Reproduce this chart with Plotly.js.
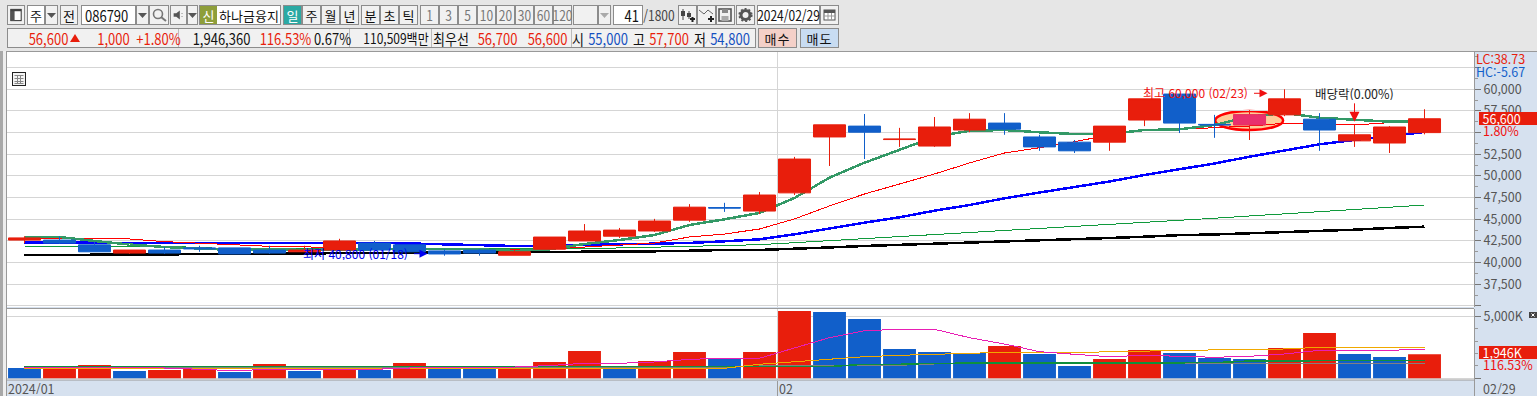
<!DOCTYPE html>
<html lang="ko"><head><meta charset="utf-8">
<script src="https://cdn.plot.ly/plotly-3.0.1.min.js"></script>
<style>
html,body{margin:0;padding:0;width:1537px;height:396px;overflow:hidden;background:#e6e6e6}
#plot{position:absolute;left:0;top:0;width:1537px;height:396px}
.c{position:absolute;box-sizing:border-box;white-space:nowrap;font:13px/1 'Liberation Sans Narrow','Noto Sans CJK KR',sans-serif;color:#111;display:flex;align-items:center;justify-content:center}
.b{border:1px solid #8c8c8c;background:#f1f1f1}
.w{background:#fff}
.g{color:#777}
.t{justify-content:flex-start}
.n span{display:inline-block;transform:scaleY(1.18)}
.scatterlayer .js-line{shape-rendering:crispEdges}
</style></head><body>
<div id="plot"></div><div id="chrome"></div>
<script>
const dates=['01/02','01/03','01/04','01/05','01/08','01/09','01/10','01/11','01/12','01/15','01/16','01/17','01/18','01/19','01/22','01/23','01/24','01/25','01/26','01/29','01/30','01/31','02/01','02/02','02/05','02/06','02/07','02/08','02/13','02/14','02/15','02/16','02/19','02/20','02/21','02/22','02/23','02/26','02/27','02/28','02/29'];
const opens=[42600,42600,42050,41100,41450,41700,41700,41450,41250,41450,42250,42050,41350,41450,40850,41550,42500,43050,43650,44900,46350,45950,48050,54500,55750,54200,53450,55300,56100,54500,53900,53900,56450,59450,55950,55900,57050,56550,54050,53800,55000];
const highs=[43050,43050,42400,41450,41800,41950,41700,41950,41950,42750,42500,42050,41550,41550,41450,42950,44450,44000,45050,46750,46900,48150,52200,55900,57150,55550,56800,57250,57250,54750,54150,55750,58900,59450,57050,57600,60000,57250,55900,55750,57700];
const lows=[42250,42150,41250,41000,41000,41250,41000,41000,41250,41450,41450,41250,40800,40800,40850,41550,42500,42850,43550,44700,45850,45600,47800,51150,51950,53350,53350,55050,54750,52900,52650,52900,55750,54950,54400,54150,56900,52900,53350,52650,54800];
const closes=[42850,42250,41250,41450,41100,41600,41000,41100,41450,42500,41450,41250,41000,41100,41250,42950,43650,43750,44800,46400,46300,47800,51950,55900,55050,54250,55650,56550,55400,53350,52900,55750,58900,56100,55900,57050,58900,55300,54750,55650,56600];
const volumes=[830,750,1073,589,669,750,508,1153,589,750,669,1234,750,750,830,1315,2202,855,1395,2121,1556,2121,5428,5347,4782,2363,2121,2040,2605,1960,992,1556,2282,2040,1637,1556,2444,3653,1960,1718,1946];
const volumeUp=[0,1,1,0,1,1,0,1,0,1,0,1,0,0,1,1,1,0,1,1,0,1,1,0,0,0,0,0,1,0,0,1,1,0,0,0,1,1,0,0,1];
const ma5=[42960,42960,42500,42090,41800,41630,41460,41570,41460,41520,41570,41570,41570,41540,41340,41540,42150,42610,43190,44340,45000,45730,47460,49800,51530,53000,54500,55220,55300,55040,54840,54840,55300,55380,55880,56840,57260,56720,56460,56260,56300];
const ma20=[42730,42730,42730,42730,42420,42260,42120,41880,41850,41570,41490,41490,41460,41460,41460,41570,41800,41950,42260,42960,43300,43880,45040,46540,47920,49070,50230,51500,52650,53260,53950,54730,55300,55380,55590,55760,56080,56000,55880,56150,56310];
const ma60=[42300,42300,42300,42300,42300,42300,42300,42300,42270,42270,42270,42210,42090,42040,41920,41950,42030,42030,42120,42270,42460,42690,43270,43960,44610,45230,45990,46650,47420,48090,48730,49360,50110,50750,51440,52220,52960,53650,54150,54610,55070];
const ma120=[41890,41890,41890,41890,41890,41750,41570,41630,41630,41630,41570,41570,41610,41630,41650,41650,41650,41690,41770,41920,42000,42070,42300,42530,42760,42990,43220,43500,43730,43970,44220,44400,44650,44880,45120,45380,45610,45880,46130,46390,46650];
const ma240=[40880,40880,40880,40880,40940,41000,41000,41000,41030,41110,41110,41110,41110,41150,41190,41230,41230,41230,41310,41370,41460,41460,41570,41750,41920,42040,42190,42320,42470,42580,42670,42840,42990,43170,43250,43380,43480,43650,43800,44000,44150];
const volMa5=[870,870,870,830,830,725,615,725,725,725,725,830,855,870,910,1030,1210,1210,1315,1530,1615,1615,2420,3275,3840,3950,3950,3275,2765,2145,1935,1740,1855,1800,1695,1775,1960,2260,2260,2260,2340];
const volMa20=[830,830,830,830,830,830,830,830,830,830,830,830,830,830,830,810,810,810,810,810,810,1130,1315,1556,1742,1855,1935,1960,2097,2065,2065,2145,2202,2258,2339,2339,2363,2500,2500,2500,2500];
const volMa60=[935,935,935,935,935,935,935,935,935,935,935,935,935,935,935,935,935,935,935,935,935,935,935,950,1129,1129,1210,1210,1210,1258,1258,1258,1258,1258,1258,1395,1395,1452,1452,1452,1452];
const volMa120=[887,887,887,887,887,887,887,887,887,887,887,887,887,887,887,887,887,887,887,887,887,992,992,992,1048,1048,1153,1153,1153,1153,1153,1153,1153,1153,1153,1153,1153,1210,1210,1210,1210];
const priceTicks=[35000,37500,40000,42500,45000,47500,50000,52500,55000,57500,60000,62500];
const priceTickLabels=['','37,500','40,000','42,500','45,000','47,500','50,000','52,500','','57,500','60,000',''];
const volumeTicks=[0,5000];
const volumeTickLabels=['','5,000K'];
const highlightIndex=35, highIndex=36, lowIndex=12, dividendIndex=38;
const monthBoundary=21.5;

const idx=dates.map((_,i)=>i);
const RED='#E81E0C',BLUE='#115FCA',FONT="'Liberation Sans Narrow','Noto Sans CJK KR',sans-serif";
const priceRange=[34881,64303];
const ma=(y,color,width,axis)=>({type:'scatter',mode:'lines',x:idx,y,yaxis:axis,line:{color,width,shape:'linear'},hoverinfo:'skip'});
const traces=[
 {type:'bar',x:idx,y:volumes,yaxis:'y2',marker:{color:volumeUp.map(u=>u?RED:BLUE),line:{width:0}}},
 ma(volMa120,'#808080',1,'y2'),ma(volMa60,'#0F8F3C',1.5,'y2'),ma(volMa20,'#F0A800',1,'y2'),ma(volMa5,'#E81EB4',1,'y2'),
 ma(ma240,'#000000',2.5,'y'),ma(ma120,'#109A3C',1,'y'),ma(ma60,'#0000FF',2.5,'y'),ma(ma20,'#FF0000',1,'y'),ma(ma5,'#339966',2.5,'y'),
 {type:'candlestick',x:idx,open:opens,high:highs,low:lows,close:closes,yaxis:'y3',whiskerwidth:0,
  increasing:{line:{color:RED,width:1},fillcolor:RED},decreasing:{line:{color:BLUE,width:1},fillcolor:BLUE}},
 {type:'candlestick',x:[highlightIndex],open:[opens[highlightIndex]],close:[closes[highlightIndex]],high:[closes[highlightIndex]],low:[opens[highlightIndex]],yaxis:'y3',whiskerwidth:0,
  increasing:{line:{color:'#E8306E',width:1},fillcolor:'#E8306E'},decreasing:{line:{color:'#E8306E',width:1},fillcolor:'#E8306E'}}
];
const tickFont={family:FONT,size:12.5,color:'#555'};
const note=(o)=>Object.assign({showarrow:false,font:{family:FONT,size:12,color:'#222'},borderpad:0,borderwidth:0,height:13},o);
const annotations=[
 note({xref:'x',yref:'y',x:highIndex,y:highs[highIndex],xanchor:'right',xshift:-37,yshift:-3,text:'최고 60,000 (02/23)',font:{family:FONT,size:12,color:'#F01010'}}),
 {xref:'x',yref:'y',x:highIndex,y:highs[highIndex],xshift:-17,yshift:-4,ax:-15,ay:0,text:'',showarrow:true,arrowcolor:'#F01010',arrowwidth:1,arrowhead:2,arrowsize:1.6},
 note({xref:'x',yref:'y',x:lowIndex,y:lows[lowIndex],xanchor:'right',xshift:-37,yshift:2,text:'최저 40,800 (01/18)',font:{family:FONT,size:12,color:'#0000F0'}}),
 {xref:'x',yref:'y',x:lowIndex,y:lows[lowIndex],xshift:-17,yshift:2,ax:-15,ay:0,text:'',showarrow:true,arrowcolor:'#0000F0',arrowwidth:1,arrowhead:2,arrowsize:1.6},
 note({xref:'x',yref:'y',x:dividendIndex,y:highs[dividendIndex],xanchor:'center',yshift:31,text:'배당락(0.00%)',font:{family:FONT,size:12.5,color:'#222'}}),
 {xref:'x',yref:'y',x:dividendIndex,y:highs[dividendIndex],yshift:3,ax:0,ay:-20,text:'',showarrow:true,arrowcolor:'#F01010',arrowwidth:1,arrowhead:2,arrowsize:2},
 note({xref:'paper',yref:'y',x:1,xshift:5,xanchor:'left',y:closes[40],width:58,height:13,align:'left',bgcolor:RED,text:' 56,600',font:{family:FONT,size:12.5,color:'#fff'}}),
 note({xref:'paper',yref:'y',x:1,xshift:9,xanchor:'left',y:closes[40],yshift:-11.5,height:11,text:'1.80%',font:{family:FONT,size:12.5,color:'#F01010'}}),
 note({xref:'paper',yref:'y2',x:1,xshift:5,xanchor:'left',y:volumes[40],yshift:2,width:58,height:13,align:'left',bgcolor:RED,text:' 1,946K',font:{family:FONT,size:12.5,color:'#fff'}}),
 note({xref:'paper',yref:'y2',x:1,xshift:9,xanchor:'left',y:volumes[40],yshift:-10,height:11,text:'116.53%',font:{family:FONT,size:12.5,color:'#F01010'}}),
 note({xref:'paper',yref:'paper',x:1,xshift:2,xanchor:'left',y:1,yanchor:'top',yshift:0,height:12,text:'LC:38.73',font:{family:FONT,size:12.5,color:'#E81E0C'}}),
 note({xref:'paper',yref:'paper',x:1,xshift:2,xanchor:'left',y:1,yanchor:'top',yshift:-13,height:12,text:'HC:-5.67',font:{family:FONT,size:12.5,color:'#115FCA'}}),
 note({xref:'x',yref:'paper',x:-0.5,xshift:1,xanchor:'left',y:0,yanchor:'top',yshift:-2,height:12,text:'2024/01',font:tickFont}),
 note({xref:'x',yref:'paper',x:monthBoundary,xshift:2,xanchor:'left',y:0,yanchor:'top',yshift:-2,height:12,text:'02',font:tickFont}),
 note({xref:'paper',yref:'paper',x:1,xshift:9,xanchor:'left',y:0,yanchor:'top',yshift:-2,height:12,text:'02/29',font:tickFont})
];
const shapes=[
 {type:'circle',xref:'x',yref:'y',layer:'below',x0:highlightIndex-0.98,x1:highlightIndex+0.96,y0:55300,y1:57500,fillcolor:'#FFCC99',line:{color:'#FF0000',width:2.5}},
 {type:'line',xref:'paper',yref:'paper',x0:0,x1:1,y0:0.2180,y1:0.2180,line:{color:'#999',width:1}},
 {type:'line',xref:'paper',yref:'paper',x0:0,x1:1,y0:0,y1:0,line:{color:'#999',width:1}}
];
const layout={
 width:1537,height:396,autosize:false,showlegend:false,
 margin:{l:7,r:63,t:52,b:16,pad:0},
 paper_bgcolor:'#D6E1EF',plot_bgcolor:'#FFFFFF',
 bargap:0.06,boxgap:0.085,boxgroupgap:0,boxmode:'overlay',hovermode:false,
 font:{family:FONT},
 xaxis:{domain:[0,1],anchor:'y2',range:[-0.5,41.414],rangeslider:{visible:false},showticklabels:false,tickmode:'array',tickvals:[monthBoundary],ticks:'outside',ticklen:16,tickcolor:'#999',showgrid:true,gridcolor:'#D5D5D5',gridwidth:1,zeroline:false,showline:false},
 yaxis:{domain:[0.2226,1],range:priceRange,side:'right',anchor:'x',tickmode:'array',tickvals:priceTicks,ticktext:priceTickLabels,ticks:'outside',ticklen:6,tickcolor:'#777',tickfont:tickFont,gridcolor:'#D5D5D5',gridwidth:1,zeroline:false,showline:true,linecolor:'#999',linewidth:1,
  minor:{tickmode:'linear',tick0:0,dtick:1250,ticks:'outside',ticklen:3,tickcolor:'#999',showgrid:false}},
 yaxis2:{domain:[0,0.2165],range:[-137,5589],side:'right',anchor:'x',tickmode:'array',tickvals:volumeTicks,ticktext:volumeTickLabels,ticks:'outside',ticklen:6,tickcolor:'#777',tickfont:tickFont,gridcolor:'#D5D5D5',gridwidth:1,zeroline:false,showline:true,linecolor:'#999',linewidth:1,
  minor:{tickmode:'linear',tick0:0,dtick:1000,ticks:'outside',ticklen:3,tickcolor:'#999',showgrid:false}},
 yaxis3:{overlaying:'y',range:priceRange,side:'right',visible:false,anchor:'x'},
 annotations,shapes
};
Plotly.newPlot('plot',traces,layout,{staticPlot:true,displayModeBar:false});

/* application toolbar around the chart */
const chrome=document.getElementById('chrome');
function el(x,y,w,h,text,cls,css){const d=document.createElement('div');d.className='c '+(cls||'');d.style.cssText=`left:${x}px;top:${y}px;width:${w}px;height:${h}px;`+(css||'');d.innerHTML=(cls||'').split(' ').includes('n')?`<span>${text}</span>`:(text||'');chrome.appendChild(d);return d;}
const arrow=(c)=>`<svg width="9" height="5"><path d="M0 0H9L4.5 5Z" fill="${c||'#555'}"/></svg>`;
const icon=(p)=>`<svg width="17" height="16" viewBox="0 0 17 16">${p}</svg>`;
el(0,0,1537,51,'','','background:#e6e6e6');
el(0,51,7,345,'','','background:#eeeeee');
el(0,51,3,345,'','','background:#a8a8a8');
el(6,51,1,345,'','','background:#999');
el(6,51,1531,1,'','','background:#999');
el(1474,380,1,16,'','','background:#999');
const Y=5,H=20;
el(7,Y,18,H,icon('<rect x="3" y="2" width="11" height="12" fill="#fff" stroke="#222"/><rect x="3" y="2" width="4" height="12" fill="#555"/><rect x="3" y="2" width="11" height="2" fill="#444"/>'),'b');
el(27,Y,18,H,'주','b w');el(45,Y,13,H,arrow(),'b');
el(60,Y,18,H,'전','b');
el(81,Y,55,H,'086790','b w t n','padding-left:3px');el(136,Y,13,H,arrow(),'b');
el(149,Y,20,H,icon('<circle cx="7" cy="7" r="4.5" fill="none" stroke="#777" stroke-width="1.6"/><path d="M10 10L15 14" stroke="#777" stroke-width="2"/>'),'b');
el(170,Y,17,H,icon('<path d="M3 6H6L10 3V13L6 10H3Z" fill="#555"/><path d="M12 6h1v1h-1zM12 9h1v1h-1z" fill="#555"/>'),'b');el(187,Y,11,H,arrow(),'b');
el(199,Y,82,H,'','b w');
el(200,Y+1,17,H-2,'신','','background:#8E9E3A;color:#fff');
el(218,Y+1,62,H-2,'하나금융지','w','font-size:13px;font-family:"Noto Sans CJK KR"');
[['일',283,'#2BA9A3','#fff'],['주',302],['월',321],['년',340],['분',361],['초',380],['틱',399]].forEach(a=>el(a[1],Y,19,H,a[0],'b',a[2]?`background:${a[2]};color:${a[3]}`:''));
[['1',420],['3',439],['5',458],['10',477],['20',496],['30',515],['60',534],['120',553]].forEach(a=>el(a[1],Y,19,H,a[0],'b g n','font-size:12px'));
el(573,Y,25,H,'','b');el(598,Y,13,H,arrow('#aaa'),'b');
el(613,Y,30,H,'41','b w n','justify-content:flex-end;padding-right:3px');
el(644,Y,30,H,'/1800','g n','color:#444;font-size:12px');
el(678,Y,19,H,icon('<path d="M4 2V13M10 4V12" stroke="#444"/><rect x="2" y="4" width="4" height="5" fill="#444"/><rect x="8" y="6" width="4" height="4" fill="#444"/><path d="M11 12h5M13.5 10v5" stroke="#222" stroke-width="2"/>'),'b');
el(697,Y,19,H,icon('<path d="M1 3L6 7L10 3L15 7" stroke="#666" fill="none"/><path d="M10 12h6M13 9v6" stroke="#222" stroke-width="2"/>'),'b');
el(716,Y,19,H,icon('<rect x="2" y="2" width="12" height="12" fill="none" stroke="#555" stroke-width="1.6"/><rect x="5" y="2" width="6" height="4" fill="#888"/><rect x="4.5" y="9" width="7" height="5" fill="#aaa"/>'),'b');
el(736,Y,19,H,icon('<circle cx="8.5" cy="8" r="4.5" fill="none" stroke="#555" stroke-width="3"/><circle cx="8.5" cy="8" r="6.3" fill="none" stroke="#555" stroke-width="1.6" stroke-dasharray="2 2"/>'),'b');
el(757,Y,63,H,'2024/02/29','b w n','font-size:12px');
el(820,Y,19,H,icon('<rect x="3" y="3" width="11" height="10" fill="#fff" stroke="#555"/><rect x="3" y="3" width="11" height="3" fill="#555"/><path d="M3 9h11M7 6v7M10.5 6v7" stroke="#999"/>'),'b');
el(7,28,749,20,'','b');
[178,349,431,571].forEach(x=>el(x,29,1,18,'','','background:#bbb'));
const R='#E81E0C',B='#1450C0';
[['56,600',30,37,R],['1,000',99,29,R],['+1.80%',141,35,R],['1,946,360',195,53],['116.53%',265,41,R],['0.67%',318,29],['110,509백만',364,64,null,'font-size:12px'],['최우선',434,34],['56,700',480,35,R],['56,600',529,37,R],['시',573,10],['55,000',590,36,B],['고',634,10],['57,700',651,36,R],['저',695,10],['54,800',712,36,B]].forEach(a=>el(a[1],28,a[2],20,a[0],'n',(a[3]?'color:'+a[3]+';':'')+(a[4]||'')));
el(70,33,10,10,'<svg width="10" height="10"><path d="M5 1L10 9H0Z" fill="#E81E0C"/></svg>');
el(758,28,39,20,'매수','b','background:#F4D0C8;letter-spacing:1px');
el(800,28,39,20,'매도','b','background:#C8DCF2;letter-spacing:1px');
el(12,72,14,14,'<svg width="14" height="14"><rect x="0.5" y="0.5" width="13" height="13" fill="#f4f4f4" stroke="#222"/><path d="M2.5 3.5h9M2.5 6.5h9M2.5 9.5h9M2.5 11.5h9M5.5 3v9M8.5 3v9" stroke="#888"/></svg>');
el(1529,312,8,6,'<svg width="8" height="6"><rect width="8" height="6" fill="#444"/><path d="M2.5 1.5L5.5 4.5M5.5 1.5L2.5 4.5" stroke="#fff"/></svg>');
</script></body></html>
